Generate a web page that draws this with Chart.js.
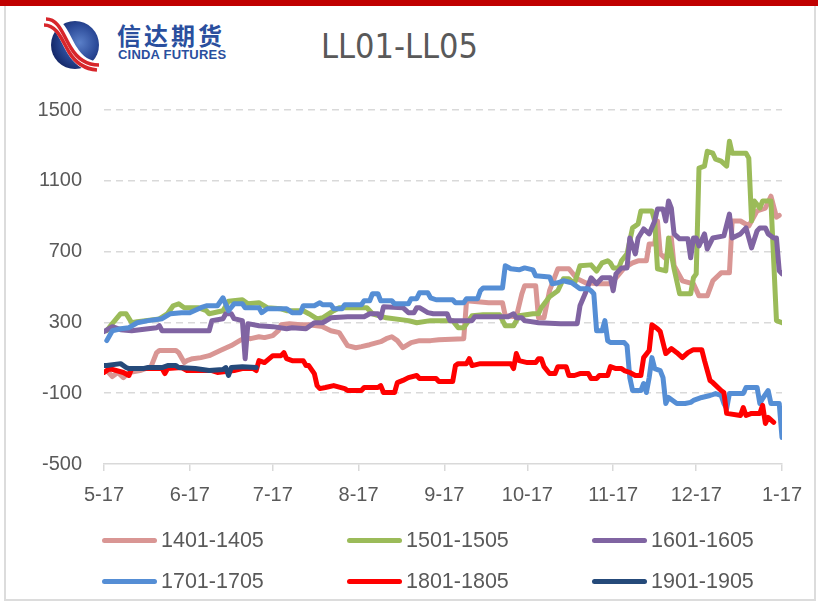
<!DOCTYPE html>
<html>
<head>
<meta charset="utf-8">
<script src="https://cdn.jsdelivr.net/npm/chart.js@4.4.1/dist/chart.umd.min.js"></script>
<style>
  body { margin: 0; background: #fff; }
  #wrap { position: relative; width: 818px; height: 603px; overflow: hidden; font-family: "Liberation Sans", Arial, sans-serif; }
  #topbar { position: absolute; left: 0; top: 0; width: 818px; height: 6px; background: #c00000; }
  #frame { position: absolute; left: 4px; top: 6px; width: 808px; height: 593px; border-left: 2px solid #dcdcdc; border-bottom: 2px solid #dcdcdc; border-right: 2px solid #dcdcdc; }
  canvas { position: absolute; left: 0; top: 0; }
  #title { position: absolute; left: 321px; top: 29px; font-family: "Liberation Sans Narrow", "DejaVu Sans Condensed", sans-serif; font-size: 34px; line-height: 34px; color: #595959; }
  #logo { position: absolute; left: 42px; top: 16px; }
  #cn { position: absolute; left: 117px; top: 21px; font-family: "Noto Sans CJK SC", sans-serif; font-weight: 700; font-size: 24px; line-height: 28px; color: #2a4f9e; letter-spacing: 3px; }
  #en { position: absolute; left: 118px; top: 48px; font-family: "Liberation Sans Narrow", "Liberation Sans", sans-serif; font-weight: 700; font-size: 13px; line-height: 14px; color: #2a4f9e; letter-spacing: 0.2px; }
  .lg { position: absolute; height: 26px; display: flex; align-items: center; font-size: 21.5px; color: #595959; white-space: nowrap; }
  .lg span.ln { display: inline-block; width: 55px; height: 5px; border-radius: 3px; margin-right: 4px; }
</style>
</head>
<body>
<div id="wrap">
  <div id="topbar"></div>
  <div id="frame"></div>
  <svg id="logo" width="62" height="56" viewBox="0 0 62 56">
    <defs>
      <radialGradient id="ball" cx="0.6" cy="0.45" r="0.6">
        <stop offset="0" stop-color="#5a7fc8"/>
        <stop offset="0.6" stop-color="#2b4a98"/>
        <stop offset="1" stop-color="#15296a"/>
      </radialGradient>
    </defs>
    <circle cx="33" cy="29" r="24" fill="url(#ball)"/>
    <path d="M4 5 C18 5 22 21 30 34 C36 44 44 51 57 51" stroke="#fff" stroke-width="11" fill="none"/>
    <path d="M4 3 C17 3 21 19 29 32 C35 42 43 49 57 49" stroke="#d7262b" stroke-width="3.5" fill="none"/>
    <path d="M2 9 C15 9 20 24 27 36 C33 46 42 53 55 54" stroke="#d7262b" stroke-width="3.5" fill="none"/>
  </svg>
  <div id="cn">信达期货</div>
  <div id="en">CINDA FUTURES</div>
  <div id="title">LL01-LL05</div>
  <canvas id="chart" width="818" height="603"></canvas>
  <div id="legend"></div>
</div>
<script>
// x = days since 5-17, y = spread
const monthDays = [0, 31, 61, 92, 123, 153, 184, 214, 245];
const monthLabels = ['5-17', '6-17', '7-17', '8-17', '9-17', '10-17', '11-17', '12-17', '1-17'];
const yTicks = [-500, -100, 300, 700, 1100, 1500];

const seriesNames = ['1401-1405', '1501-1505', '1601-1605', '1701-1705', '1801-1805', '1901-1905'];

const s1401 = [[1,28],[3,-6],[5,17],[7,-12],[9,17],[13,28],[17,50],[19,129],[20,141],[26,141],[27,129],[29,73],[30,84],[32,95],[35,101],[38,112],[42,141],[46,169],[49,197],[51,214],[53,208],[56,219],[58,214],[61,225],[63,253],[64,287],[67,293],[71,287],[74,287],[79,276],[82,253],[85,242],[88,169],[91,157],[93,163],[96,174],[100,191],[102,208],[104,219],[106,197],[108,157],[111,186],[114,197],[118,197],[121,202],[130,208],[131,422],[139,411],[144,411],[145,338],[149,332],[151,462],[152,507],[156,507],[157,326],[159,326],[161,479],[164,603],[168,603],[171,546],[174,524],[179,518],[183,518],[184,535],[185,552],[188,608],[191,636],[193,648],[196,648],[197,743],[199,743],[200,873],[201,687],[203,660],[205,777],[206,620],[209,535],[213,518],[215,450],[218,450],[220,535],[223,580],[226,580],[227,873],[230,873],[233,845],[236,930],[239,946],[241,1013],[243,895],[244,905]];

const s1501 = [[1,253],[3,293],[6,349],[8,349],[10,298],[12,304],[15,310],[20,320],[23,350],[25,394],[27,405],[29,383],[34,383],[37,366],[38,349],[43,366],[45,420],[50,428],[52,405],[56,411],[59,383],[64,377],[66,366],[72,366],[74,349],[77,320],[79,326],[83,366],[85,383],[95,383],[97,349],[102,326],[110,310],[113,298],[118,310],[126,310],[128,270],[130,270],[133,338],[137,343],[143,343],[145,281],[148,281],[150,338],[155,349],[157,349],[158,383],[161,445],[164,479],[166,546],[168,546],[170,518],[172,620],[176,625],[178,590],[180,636],[182,648],[183,636],[184,608],[186,608],[187,648],[189,687],[191,834],[193,856],[194,929],[198,929],[199,873],[200,603],[203,591],[204,777],[206,603],[208,462],[212,462],[213,552],[214,574],[215,1172],[217,1183],[218,1267],[220,1256],[221,1222],[223,1211],[225,1183],[226,1324],[227,1256],[232,1256],[233,1228],[234,873],[235,986],[237,946],[238,986],[241,986],[243,310],[245,298]];

const s1601 = [[0,248],[3,276],[6,259],[10,253],[16,264],[19,270],[20,281],[21,253],[38,253],[39,310],[43,321],[44,349],[46,349],[47,321],[50,310],[51,95],[52,293],[56,281],[61,276],[66,264],[68,270],[73,264],[76,298],[79,298],[82,326],[88,332],[94,332],[96,349],[99,349],[100,326],[101,388],[108,383],[110,355],[112,355],[113,383],[114,383],[117,355],[119,349],[124,349],[125,310],[133,310],[134,332],[146,332],[148,349],[149,326],[151,326],[152,310],[157,298],[165,293],[171,293],[172,394],[174,467],[176,552],[178,518],[180,552],[183,552],[184,479],[185,574],[187,608],[189,608],[190,777],[192,687],[193,777],[195,828],[197,800],[199,873],[200,941],[202,941],[203,873],[204,986],[205,946],[206,800],[208,772],[211,772],[212,665],[213,777],[214,777],[215,732],[217,800],[218,715],[220,777],[224,789],[226,912],[227,777],[230,800],[232,834],[234,721],[236,817],[237,834],[239,834],[240,800],[242,777],[243,777],[244,591],[245,574]];

const s1701 = [[1,197],[3,253],[6,264],[9,270],[12,298],[16,310],[21,321],[24,349],[28,355],[31,355],[35,383],[37,394],[41,394],[43,439],[45,366],[47,405],[50,405],[51,383],[56,383],[57,355],[59,377],[66,377],[68,355],[71,355],[72,394],[76,394],[78,411],[79,400],[82,400],[83,377],[86,377],[87,400],[93,400],[94,422],[96,422],[97,462],[99,462],[100,422],[104,422],[105,405],[110,405],[111,434],[113,434],[114,467],[117,467],[118,439],[120,428],[126,428],[127,411],[130,411],[131,434],[135,434],[136,479],[137,495],[144,495],[145,620],[147,603],[150,597],[152,608],[155,597],[156,563],[161,557],[162,518],[164,524],[166,535],[169,524],[172,490],[175,490],[176,479],[177,462],[178,253],[180,253],[181,310],[182,197],[183,186],[188,186],[189,169],[190,-12],[191,-85],[194,-85],[195,-45],[196,-96],[197,-12],[198,101],[199,39],[201,28],[202,-12],[203,-158],[204,-124],[207,-158],[210,-158],[212,-152],[213,-141],[216,-124],[219,-113],[221,-102],[223,-113],[224,-158],[225,-186],[226,-102],[231,-102],[232,-68],[236,-68],[237,-158],[238,-130],[240,-85],[241,-158],[244,-158],[245,-350]];

const s1801 = [[0,17],[2,39],[7,17],[9,0],[10,39],[21,39],[22,11],[23,39],[28,45],[30,28],[39,28],[41,17],[47,28],[50,39],[54,39],[55,28],[56,84],[58,73],[61,112],[64,112],[65,129],[66,95],[68,84],[72,84],[73,56],[74,56],[76,11],[77,-57],[78,-74],[80,-68],[83,-57],[87,-74],[88,-85],[93,-85],[94,-68],[99,-68],[100,-57],[101,-96],[105,-96],[106,-40],[108,-28],[110,-12],[113,0],[114,-17],[120,-17],[121,-34],[126,-34],[127,56],[128,67],[131,67],[132,95],[133,56],[136,67],[147,67],[148,39],[149,124],[150,84],[153,73],[156,73],[157,95],[158,95],[159,50],[161,11],[163,11],[164,50],[167,50],[168,0],[170,0],[172,11],[175,11],[176,-17],[178,-17],[179,0],[182,0],[183,50],[185,39],[187,39],[188,28],[190,17],[192,0],[194,0],[195,101],[197,141],[198,287],[200,264],[201,248],[203,124],[205,152],[207,129],[209,101],[211,129],[213,146],[216,146],[217,84],[219,-28],[220,-40],[223,-85],[224,-96],[225,-214],[230,-226],[231,-181],[232,-226],[234,-214],[237,-214],[238,-169],[239,-271],[240,-237],[242,-265]];

const s1901 = [[0,56],[1,56],[6,67],[8,45],[9,39],[14,39],[16,45],[21,45],[23,56],[26,56],[27,45],[33,39],[38,28],[43,34],[44,45],[45,0],[46,45],[50,50],[55,45]];

const seriesData = [s1401, s1501, s1601, s1701, s1801, s1901];
const seriesColors = ['#d99694', '#9bbb59', '#8064a2', '#558ed5', '#ff0000', '#254a7a'];

const tickFont = { family: '"Liberation Sans", Arial, sans-serif', size: 20 };

const datasets = seriesNames.map(function(name, i) {
  return {
    label: name,
    data: seriesData[i],
    borderColor: seriesColors[i],
    backgroundColor: seriesColors[i],
    order: 5 - i
  };
});

const myChart = new Chart(document.getElementById('chart'), {
  type: 'line',
  data: { datasets: datasets },
  options: {
    responsive: false,
    animation: false,
    layout: { padding: { left: 0, top: 110, right: 36, bottom: 0 } },
    plugins: { legend: { display: false }, tooltip: { enabled: false } },
    elements: {
      point: { radius: 0 },
      line: { borderWidth: 5, tension: 0, borderJoinStyle: 'round', borderCapStyle: 'round' }
    },
    scales: {
      x: {
        type: 'linear',
        min: 0,
        max: 245,
        afterBuildTicks: function(s) { s.ticks = monthDays.map(function(v) { return { value: v }; }); },
        afterFit: function(s) { s.height = 603 - 464; },
        grid: { drawOnChartArea: false, drawTicks: true, tickLength: 7, color: '#d9d9d9', lineWidth: 1.5 },
        border: { display: true, color: '#d9d9d9', width: 1.5 },
        ticks: {
          autoSkip: false, maxRotation: 0, padding: 12, color: '#595959', font: tickFont,
          callback: function(v, i) { return monthLabels[i]; }
        }
      },
      y: {
        min: -500,
        max: 1500,
        afterBuildTicks: function(s) { s.ticks = yTicks.map(function(v) { return { value: v }; }); },
        afterFit: function(s) { s.width = 104; },
        grid: {
          drawTicks: false, lineWidth: 1.5,
          color: function(ctx) { return ctx.tick && ctx.tick.value === -500 ? 'rgba(0,0,0,0)' : '#d9d9d9'; }
        },
        border: { display: false, dash: [7, 5] },
        ticks: {
          padding: 22, color: '#595959', font: tickFont,
          callback: function(v) { return String(v); }
        }
      }
    }
  }
});

// 범례
const legend = document.getElementById('legend');
const colX = [102, 347, 592];
const rowY = [527, 568];
myChart.data.datasets.forEach(function(ds, i) {
  const item = document.createElement('div');
  item.className = 'lg';
  item.style.left = colX[i % 3] + 'px';
  item.style.top = rowY[Math.floor(i / 3)] + 'px';
  item.innerHTML = '<span class="ln" style="background:' + ds.borderColor + '"></span>' + ds.label;
  legend.appendChild(item);
});
</script>
</body>
</html>
